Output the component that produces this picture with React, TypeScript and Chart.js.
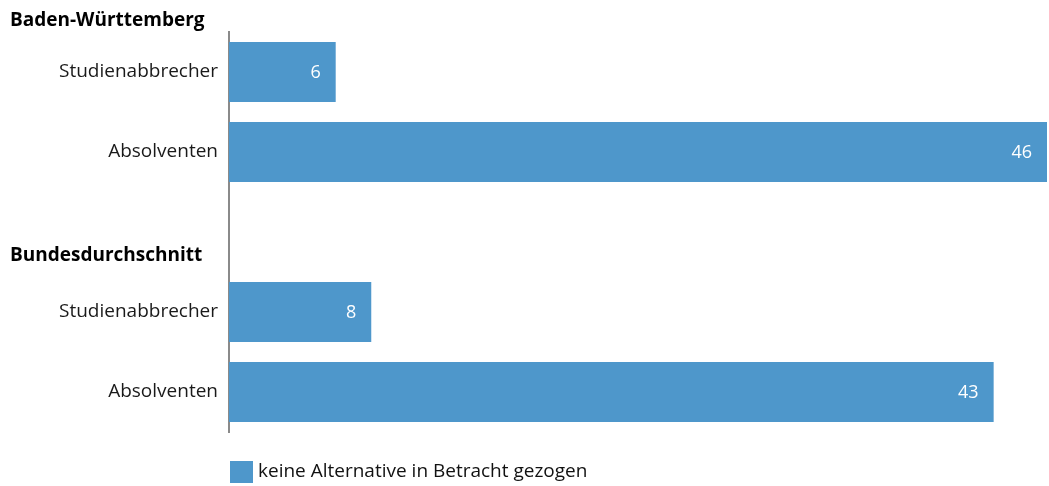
import React, { useEffect, useRef } from "react";
import { Chart, registerables } from "chart.js";

Chart.register(...registerables);

const categories = ["Studienabbrecher", "Absolventen", "", "Studienabbrecher", "Absolventen"];
const values: (number | null)[] = [6, 46, null, 8, 43];
const groupHeaders = ["Baden-Württemberg", "Bundesdurchschnitt"];
const groupHeaderIndex = [0, 3];
const seriesLabel = "keine Alternative in Betracht gezogen";
const barColor = "#4e97cb";
const FONT = "'Open Sans', 'Noto Sans', sans-serif";

const overlayPlugin = {
  id: "overlay",
  afterDatasetsDraw(chart: any) {
    const ctx = chart.ctx;
    const meta = chart.getDatasetMeta(0);
    ctx.save();
    // value labels
    ctx.fillStyle = "#ffffff";
    ctx.font = `18px ${FONT}`;
    ctx.textAlign = "right";
    ctx.textBaseline = "middle";
    meta.data.forEach((el: any, i: number) => {
      const v = values[i];
      if (v == null) return;
      ctx.fillText(String(v), el.x - 15, el.y + 1);
    });
    // group headers
    const y = chart.scales.y;
    ctx.fillStyle = "#000000";
    ctx.font = `bold 19px ${FONT}`;
    ctx.textAlign = "left";
    groupHeaders.forEach((h, k) => {
      const py = y.getPixelForValue(groupHeaderIndex[k]) - (k === 0 ? 51 : 56);
      ctx.fillText(h, 10, py);
    });
    // legend
    const lx = chart.chartArea.left + 1;
    const ly = 461;
    ctx.fillStyle = barColor;
    ctx.fillRect(lx, ly, 23, 22);
    ctx.fillStyle = "#111111";
    ctx.font = `19px ${FONT}`;
    ctx.textAlign = "left";
    ctx.textBaseline = "middle";
    ctx.fillText(seriesLabel, lx + 28, ly + 11);
    ctx.restore();
  },
};

export default function App() {
  const ref = useRef<HTMLCanvasElement>(null);
  useEffect(() => {
    if (!ref.current) return;
    const chart = new Chart(ref.current, {
      type: "bar",
      data: {
        labels: categories,
        datasets: [
          {
            label: seriesLabel,
            data: values,
            backgroundColor: barColor,
            borderWidth: 0,
            categoryPercentage: 1,
            barPercentage: 0.75,
          },
        ],
      },
      options: {
        indexAxis: "y",
        animation: false,
        responsive: false,
        maintainAspectRatio: false,
        layout: { padding: { left: 0, top: 32, right: 2, bottom: 54 } },
        plugins: {
          legend: { display: false },
          tooltip: { enabled: false },
        },
        scales: {
          x: { display: false, min: 0, max: 46 },
          y: {
            afterFit(scale: any) {
              scale.width = 229;
            },
            grid: { display: false, drawTicks: false },
            border: { display: true, color: "#8a8a8a", width: 2 },
            ticks: {
              color: "#1a1a1a",
              padding: 11,
              font: { family: FONT, size: 19 },
            },
          },
        },
      },
      plugins: [overlayPlugin],
    });
    return () => chart.destroy();
  }, []);
  return (
    <div style={{ position: "fixed", left: 0, top: 0, width: 1049, height: 486, background: "#fff" }}>
      <canvas ref={ref} width={1049} height={486} style={{ width: 1049, height: 486 }} />
    </div>
  );
}
